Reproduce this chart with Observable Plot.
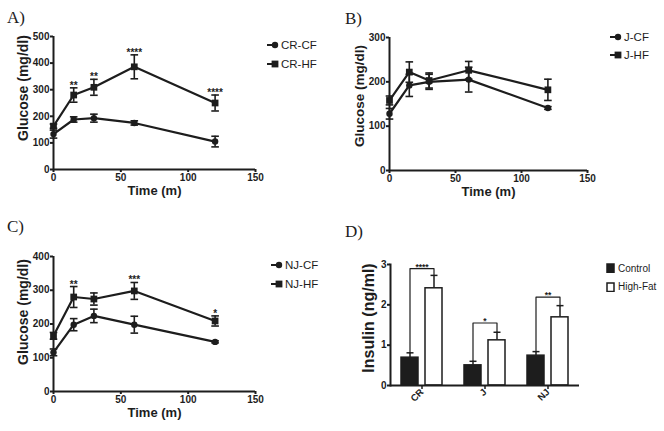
<!DOCTYPE html>
<html><head><meta charset="utf-8">
<script src="https://cdn.jsdelivr.net/npm/d3@7"></script>
<script src="https://cdn.jsdelivr.net/npm/@observablehq/plot@0.6"></script>
<style>
html,body{margin:0;padding:0;background:#fff;}
#fig{position:relative;width:664px;height:431px;overflow:hidden;font-family:"Liberation Sans",Arial,sans-serif;color:#1d1d1d;background:#fff;}
.panel{position:absolute;}
.panel svg{overflow:visible;}
.plabel{position:absolute;font-family:"Liberation Serif","Times New Roman",serif;font-size:17px;line-height:1;}
.legend{position:absolute;}
.legend .row{display:flex;align-items:center;white-space:nowrap;}
.legend svg{display:block;}
</style></head><body><div id="fig"></div>
<script>
// ---------- data ----------
const time = [0, 15, 30, 60, 120];
const xTicks = [0, 50, 100, 150];

// Panel A
const crNames = ["CR-CF", "CR-HF"];
const crCF = [133, 188, 193, 175, 105];
const crCFerr = [15, 10, 15, 8, 20];
const crHF = [163, 280, 309, 386, 250];
const crHFerr = [8, 27, 30, 45, 30];
const crStars = ["", "**", "**", "****", "****"];
const crYTicks = [0, 100, 200, 300, 400, 500];

// Panel B
const jNames = ["J-CF", "J-HF"];
const jCF = [128, 192, 200, 205, 141];
const jCFerr = [12, 25, 17, 28, 3];
const jHF = [158, 222, 203, 226, 182];
const jHFerr = [10, 23, 17, 20, 24];
const jStars = ["", "", "", "", ""];
const jYTicks = [0, 100, 200, 300];

// Panel C
const njNames = ["NJ-CF", "NJ-HF"];
const njCF = [116, 198, 224, 198, 147];
const njCFerr = [10, 18, 20, 25, 3];
const njHF = [165, 280, 274, 298, 209];
const njHFerr = [10, 31, 18, 25, 15];
const njStars = ["", "**", "", "***", "*"];
const njYTicks = [0, 100, 200, 300, 400];

// Panel D
const strains = ["CR", "J", "NJ"];
const diets = ["Control", "High-Fat"];
const insControl = [0.69, 0.50, 0.74];
const insControlErr = [0.12, 0.10, 0.10];
const insHighFat = [2.41, 1.12, 1.69];
const insHighFatErr = [0.32, 0.20, 0.29];
const bracketY = [2.90, 1.55, 2.19];
const bracketStars = ["****", "*", "**"];
const insYTicks = [0, 1, 2, 3];

const glucoseLabel = "Glucose (mg/dl)";
const timeLabel = "Time (m)";
const insulinLabel = "Insulin (ng/ml)";

// ---------- helpers ----------
const ink = "#1d1d1d";
const fig = document.getElementById("fig");
const cap = {draw(context, size) { const r = Math.sqrt(size / Math.PI); context.moveTo(-r, 0); context.lineTo(r, 0); }};
const svgStyle = {fontFamily: "'Liberation Sans', Arial, sans-serif", fontWeight: "bold", fontSize: "10px", color: ink, background: "transparent", overflow: "visible"};
const intFormat = d => String(d);

function place(node, left, top) {
  const d = document.createElement("div");
  d.className = "panel";
  d.style.left = left + "px"; d.style.top = top + "px";
  d.appendChild(node);
  fig.appendChild(d);
}
function panelLabel(text, left, top) {
  const d = document.createElement("div");
  d.className = "plabel"; d.textContent = text;
  d.style.left = left + "px"; d.style.top = top + "px";
  fig.appendChild(d);
}
function lineLegend(names, left, top, rowH, fontSize) {
  const d = document.createElement("div");
  d.className = "legend";
  d.style.left = left + "px"; d.style.top = top + "px"; d.style.fontSize = fontSize + "px";
  names.forEach((n, i) => {
    const sym = i === 0
      ? `<circle cx="9" cy="5" r="3.2" fill="${ink}"/>`
      : `<rect x="5.6" y="1.6" width="6.8" height="6.8" fill="${ink}"/>`;
    d.insertAdjacentHTML("beforeend",
      `<div class="row" style="height:${rowH}px"><svg width="14" height="10"><line x1="1" y1="5" x2="8" y2="5" stroke="${ink}" stroke-width="2"/>${sym}</svg><span style="margin-left:1px">${n}</span></div>`);
  });
  fig.appendChild(d);
}
function barLegend(names, left, top, rowH, fontSize) {
  const d = document.createElement("div");
  d.className = "legend";
  d.style.left = left + "px"; d.style.top = top + "px"; d.style.fontSize = fontSize + "px";
  names.forEach((n, i) => {
    d.insertAdjacentHTML("beforeend",
      `<div class="row" style="height:${rowH}px"><svg width="9" height="10"><rect x="1" y="1" width="7" height="8.5" fill="${i === 0 ? ink : "#fff"}" stroke="${ink}" stroke-width="1.5"/></svg><span style="margin-left:3px">${n}</span></div>`);
  });
  fig.appendChild(d);
}

function glucosePanel(names, cf, cfErr, hf, hfErr, stars, yTicks, g) {
  const rows = [];
  time.forEach((t, i) => {
    rows.push({t, s: names[0], v: cf[i], e: cfErr[i]});
    rows.push({t, s: names[1], v: hf[i], e: hfErr[i]});
  });
  const starRows = time.map((t, i) => ({t, v: hf[i] + hfErr[i], label: stars[i]})).filter(d => d.label);
  return Plot.plot({
    width: g.w, height: g.h,
    marginLeft: g.ml, marginRight: g.mr, marginTop: g.mt, marginBottom: g.mb,
    style: svgStyle,
    x: {domain: [0, 150]},
    y: {domain: [0, yTicks[yTicks.length - 1]]},
    marks: [
      Plot.ruleX(rows, {x: "t", y1: d => d.v - d.e, y2: d => d.v + d.e, stroke: ink, strokeWidth: 1.6}),
      Plot.dot(rows, {x: "t", y: d => d.v - d.e, symbol: cap, r: 3.8, fill: "none", stroke: ink, strokeWidth: 1.6}),
      Plot.dot(rows, {x: "t", y: d => d.v + d.e, symbol: cap, r: 3.8, fill: "none", stroke: ink, strokeWidth: 1.6}),
      Plot.line(rows, {x: "t", y: "v", z: "s", stroke: ink, strokeWidth: 2.2}),
      Plot.dot(rows.filter(d => d.s === names[0]), {x: "t", y: "v", symbol: "circle", r: 3.2, fill: ink}),
      Plot.dot(rows.filter(d => d.s === names[1]), {x: "t", y: "v", symbol: "square", r: 3.8, fill: ink}),
      Plot.text(starRows, {x: "t", y: "v", text: "label", lineAnchor: "bottom", dy: 1, fontSize: 10}),
      Plot.ruleY([0], {stroke: ink, strokeWidth: 2}),
      Plot.ruleX([0], {stroke: ink, strokeWidth: 2}),
      Plot.axisX({ticks: xTicks, tickSize: 3, tickPadding: 1, strokeWidth: 2, label: null, tickFormat: intFormat}),
      Plot.axisY({ticks: yTicks, tickSize: 3, tickPadding: 1, strokeWidth: 2, label: null, tickFormat: intFormat}),
      Plot.text([timeLabel], {frameAnchor: "bottom", dy: 25, fontSize: 13}),
      Plot.text([glucoseLabel], {frameAnchor: "left", textAnchor: "middle", rotate: -90, dx: g.ldx, dy: g.ldy, fontSize: g.lfs})
    ]
  });
}

// ---------- panels ----------
place(glucosePanel(crNames, crCF, crCFerr, crHF, crHFerr, crStars, crYTicks,
  {w: 265, h: 215, ml: 53, mr: 10, mt: 36, mb: 46, ldx: -30, ldy: -15, lfs: 14}), 0, 0);
place(glucosePanel(jNames, jCF, jCFerr, jHF, jHFerr, jStars, jYTicks,
  {w: 265, h: 215, ml: 59, mr: 8, mt: 37, mb: 45, ldx: -30, ldy: -8, lfs: 13.5}), 330, 0);
place(glucosePanel(njNames, njCF, njCFerr, njHF, njHFerr, njStars, njYTicks,
  {w: 265, h: 216, ml: 53, mr: 10, mt: 41, mb: 40, ldx: -30, ldy: -12, lfs: 14}), 0, 215);

// Panel D
const insRows = [];
strains.forEach((s, i) => {
  insRows.push({strain: s, diet: diets[0], v: insControl[i], e: insControlErr[i]});
  insRows.push({strain: s, diet: diets[1], v: insHighFat[i], e: insHighFatErr[i]});
});
const bracketRows = strains.flatMap((s, i) => [
  {strain: s, diet: diets[0], v: insControl[i] + insControlErr[i]},
  {strain: s, diet: diets[0], v: bracketY[i]},
  {strain: s, diet: diets[1], v: bracketY[i]},
  {strain: s, diet: diets[1], v: insHighFat[i] + insHighFatErr[i]}
]);
const bracketStarRows = strains.map((s, i) => ({strain: s, v: bracketY[i], label: bracketStars[i]}));

place(Plot.plot({
  width: 265, height: 216, marginLeft: 59, marginRight: 16, marginTop: 49, marginBottom: 46,
  style: svgStyle,
  fx: {domain: strains, padding: 0, label: null},
  x: {domain: diets, paddingInner: 0.3, paddingOuter: 0.42, axis: null},
  y: {domain: [0, 3]},
  color: {domain: diets, range: [ink, "#ffffff"]},
  marks: [
    Plot.ruleX(insRows, {fx: "strain", x: "diet", y1: "v", y2: d => d.v + d.e, stroke: ink, strokeWidth: 1.5}),
    Plot.dot(insRows, {fx: "strain", x: "diet", y: d => d.v + d.e, symbol: cap, r: 3.5, fill: "none", stroke: ink, strokeWidth: 1.5}),
    Plot.barY(insRows, {fx: "strain", x: "diet", y: "v", fill: "diet", stroke: ink, strokeWidth: 1.5}),
    Plot.line(bracketRows, {fx: "strain", x: "diet", y: "v", z: "strain", stroke: ink, strokeWidth: 1.2}),
    Plot.text(bracketStarRows, {fx: "strain", y: "v", text: "label", lineAnchor: "bottom", dy: 1, fontSize: 8.5}),
    Plot.ruleY([0], {stroke: ink, strokeWidth: 2}),
    Plot.frame({anchor: "left", facetAnchor: "left", stroke: ink, strokeWidth: 2}),
    Plot.axisY({ticks: insYTicks, tickSize: 3, tickPadding: 1, strokeWidth: 2, label: null, tickFormat: intFormat}),
    Plot.axisFx({anchor: "bottom", tickRotate: -45, tickSize: 4, tickPadding: 1, strokeWidth: 1.5, label: null, fontSize: 9.5}),
    Plot.text([insulinLabel], {frameAnchor: "left", facetAnchor: "left", textAnchor: "middle", rotate: -90, dx: -22, dy: -7, fontSize: 16})
  ]
}), 330, 215);

// ---------- labels & legends ----------
panelLabel("A)", 7, 9);
panelLabel("B)", 345, 10);
panelLabel("C)", 7, 218);
panelLabel("D)", 345, 223);

lineLegend(crNames, 266, 35, 19, 11.5);
lineLegend(jNames, 609, 28, 18, 11.5);
lineLegend(njNames, 270, 256, 18.5, 11.5);
barLegend(diets, 606, 259, 18.5, 10);
</script>
</body></html>
